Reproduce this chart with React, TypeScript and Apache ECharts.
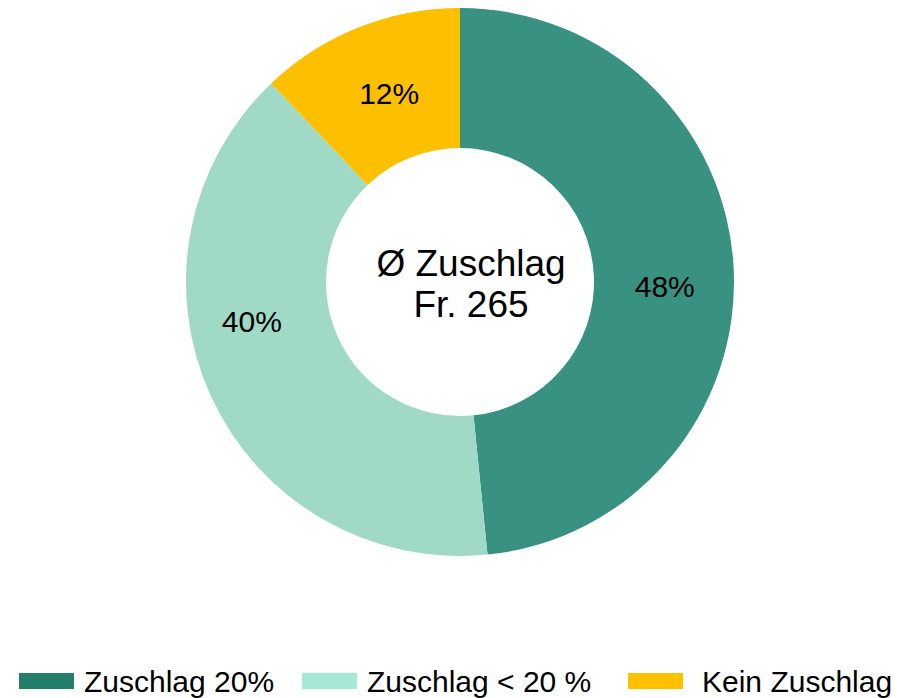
import React, { useEffect, useRef } from "react";
import * as echarts from "echarts";

const categories = ["Zuschlag 20%", "Zuschlag < 20 %", "Kein Zuschlag"];
const shares = [48.4, 39.5, 12.1];
const sliceColors = ["#389181", "#a0d9c5", "#fdc000"];
const legendColors = ["#237f6b", "#a4e8d5", "#ffc000"];
const centerLines = ["Ø Zuschlag", "Fr. 265"];

const FONT = "'Liberation Sans', Arial, sans-serif";

export default function App() {
  const ref = useRef<HTMLDivElement>(null);
  useEffect(() => {
    document.body.style.margin = "0";
    const chart = echarts.init(ref.current!, null, { renderer: "svg" });
    const labelOffsets = [
      [-2, 15],
      [-20, -47],
      [6, 4],
    ];
    const legendLeft = [19, 302, 628];
    const legendPad = [5, 5, 14];
    chart.setOption({
      animation: false,
      backgroundColor: "#ffffff",
      legend: categories.map((name, i) => ({
        data: [{ name, itemStyle: { color: legendColors[i] } }],
        left: legendLeft[i],
        top: 666,
        padding: 0,
        icon: "rect",
        itemWidth: 55,
        itemHeight: 16,
        selectedMode: false,
        textStyle: {
          fontFamily: FONT,
          fontSize: 30,
          lineHeight: 30,
          color: "#000",
          padding: [0, 0, 0, legendPad[i]],
        },
      })),
      graphic: [
        {
          type: "text",
          x: 471,
          y: 284,
          style: {
            text: centerLines.join("\n"),
            fontFamily: FONT,
            fontSize: 37,
            lineHeight: 41,
            fill: "#000",
            align: "center",
            verticalAlign: "middle",
          },
        },
      ],
      series: [
        {
          type: "pie",
          center: [460, 282],
          radius: [134, 274],
          startAngle: 90,
          clockwise: true,
          avoidLabelOverlap: false,
          emphasis: { disabled: true },
          label: {
            show: true,
            position: "inside",
            fontFamily: FONT,
            fontSize: 30,
            color: "#000",
            formatter: (p: any) => Math.round(p.value) + "%",
          },
          labelLine: { show: false },
          itemStyle: { borderWidth: 0 },
          data: categories.map((name, i) => ({
            name,
            value: shares[i],
            itemStyle: { color: sliceColors[i] },
            label: { offset: labelOffsets[i] },
          })),
        },
      ],
    });
    return () => chart.dispose();
  }, []);
  return <div ref={ref} style={{ width: 900, height: 698 }} />;
}
